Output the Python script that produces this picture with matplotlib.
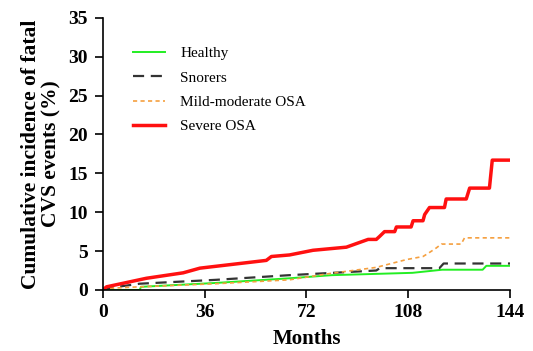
import matplotlib.pyplot as plt

# months / cumulative incidence (%)
healthy_x = [0, 13, 13.5, 40, 66, 81, 109.5, 120, 134.3, 135.6, 144]
healthy_y = [0, 0, 0.4, 0.9, 1.5, 1.9, 2.2, 2.6, 2.6, 3.1, 3.1]

snorers_x = [0, 1.3, 13, 40, 66, 96.7, 97.9, 119, 120.5, 144]
snorers_y = [0, 0.2, 0.8, 1.3, 1.9, 2.5, 2.8, 2.8, 3.4, 3.4]

mild_x = [0, 1.3, 13, 40, 66, 80, 96.7, 107.3, 113.2, 115, 117.9, 119.7, 126.7, 127.9, 144]
mild_y = [0, 0.2, 0.4, 0.8, 1.3, 2.1, 2.9, 3.9, 4.3, 4.7, 5.4, 5.9, 5.9, 6.7, 6.7]

severe_x = [0, 1.3, 15.4, 28.4, 34.3, 57.8, 59.6, 66, 74.3, 86.1, 93.8, 96.7, 97.9, 99.6,
            103.2, 103.8, 109, 109.7, 113.2, 113.8, 115.5, 120.8, 121.4, 128.5, 129.7,
            136.7, 137.7, 144]
severe_y = [0, 0.4, 1.5, 2.2, 2.8, 3.8, 4.3, 4.5, 5.1, 5.5, 6.5, 6.5, 6.9, 7.5,
            7.5, 8.1, 8.1, 8.9, 8.9, 9.7, 10.6, 10.6, 11.7, 11.7, 13.1,
            13.1, 16.7, 16.7]

x_ticks = [0, 36, 72, 108, 144]
y_ticks = [0, 5, 10, 15, 20, 25, 30, 35]

plt.rcParams['font.family'] = ['Liberation Serif', 'DejaVu Serif']

fig = plt.figure(figsize=(5.33, 3.51), dpi=100)
ax = fig.add_axes([0.193, 0.174, 0.764, 0.775])

ax.plot(healthy_x, healthy_y, color='#22ee22', lw=1.4, label='Healthy')
ax.plot(snorers_x, snorers_y, color='#333333', lw=1.6, ls=(0, (5, 3)), label='Snorers')
ax.plot(mild_x, mild_y, color='#f5a040', lw=1.2, ls=(0, (2.5, 2)), label='Mild-moderate OSA')
ax.plot(severe_x, severe_y, color='#ff1010', lw=2.5, label='Severe OSA')

ax.set_xlim(0, 144)
ax.set_ylim(0, 35)
ax.set_xticks(x_ticks)
ax.set_yticks(y_ticks)
for s in ['top', 'right']:
    ax.spines[s].set_visible(False)
for s in ['left', 'bottom']:
    ax.spines[s].set_linewidth(1.2)
ax.tick_params(direction='out', length=6, width=1.2, labelsize=14)
ax.tick_params(axis='y', pad=5)
ax.tick_params(axis='x', pad=4)
for lab in ax.get_xticklabels() + ax.get_yticklabels():
    lab.set_fontweight('bold')

ax.set_xlabel('Months', fontsize=15, fontweight='bold', labelpad=6)
ax.set_ylabel('Cumulative incidence of fatal\nCVS events (%)', fontsize=15.5,
              fontweight='bold', labelpad=5, linespacing=1.0)

ax.legend(loc='upper left', bbox_to_anchor=(0.04, 0.945), frameon=False, fontsize=11,
          handlelength=2.1, handletextpad=1.0, labelspacing=0.7)

fig.savefig('out.png', dpi=100)
